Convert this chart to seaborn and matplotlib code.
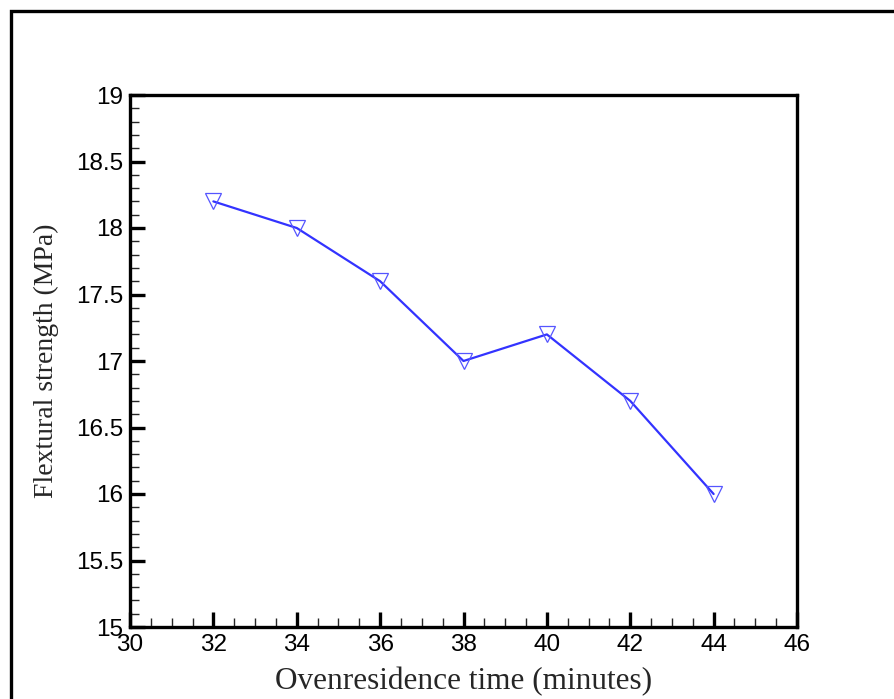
import matplotlib
matplotlib.use("Agg")
import matplotlib.pyplot as plt
import seaborn as sns
import pandas as pd
from matplotlib.patches import Rectangle
from matplotlib.ticker import MultipleLocator

time_min = [32, 34, 36, 38, 40, 42, 44]
strength = [18.2, 18.0, 17.6, 17.0, 17.2, 16.7, 16.0]
x_ticks = [30, 32, 34, 36, 38, 40, 42, 44, 46]
y_ticks = [15, 15.5, 16, 16.5, 17, 17.5, 18, 18.5, 19]
y_tick_labels = ["15", "15.5", "16", "16.5", "17", "17.5", "18", "18.5", "19"]

sns.set_style("ticks")
plt.rcParams["font.family"] = ["Liberation Sans", "DejaVu Sans"]

W, H = 894, 699
fig = plt.figure(figsize=(W / 100, H / 100), dpi=100)
ax = fig.add_axes([130 / W, 1 - 627 / H, (797 - 130) / W, (627 - 95) / H])

df = pd.DataFrame({"t": time_min, "s": strength})
sns.lineplot(data=df, x="t", y="s", ax=ax, color="#3333ff", linewidth=1.6,
             marker="v", markersize=11, markerfacecolor="none",
             markeredgecolor="#5555ff", markeredgewidth=0.9)

ax.set_xlim(30, 46)
ax.set_ylim(15, 19)
ax.set_xticks(x_ticks)
ax.set_yticks(y_ticks)
ax.set_yticklabels(y_tick_labels)
ax.xaxis.set_minor_locator(MultipleLocator(0.5))
ax.yaxis.set_minor_locator(MultipleLocator(0.1))
ax.tick_params(which="major", direction="in", length=10.5, width=2.4,
               labelsize=17.5, colors="black", pad=5)
ax.tick_params(which="minor", direction="in", length=6.5, width=1.0)
ax.tick_params(top=False, right=False, which="both")

for sp in ax.spines.values():
    sp.set_linewidth(2.4)
    sp.set_color("black")
    sp.set_visible(True)

serif = ["Liberation Serif", "DejaVu Serif"]
ax.set_xlabel("Ovenresidence time (minutes)", fontsize=22.5, family=serif, labelpad=8)
ax.set_ylabel("Flextural strength (MPa)", fontsize=20, family=serif, labelpad=12)

fig.patches.append(Rectangle((10.5 / W, -0.1), 1.2, 1 - 11 / H + 0.1,
                             transform=fig.transFigure, fill=False,
                             edgecolor="black", linewidth=2.4))

fig.savefig("out.png", dpi=100)
